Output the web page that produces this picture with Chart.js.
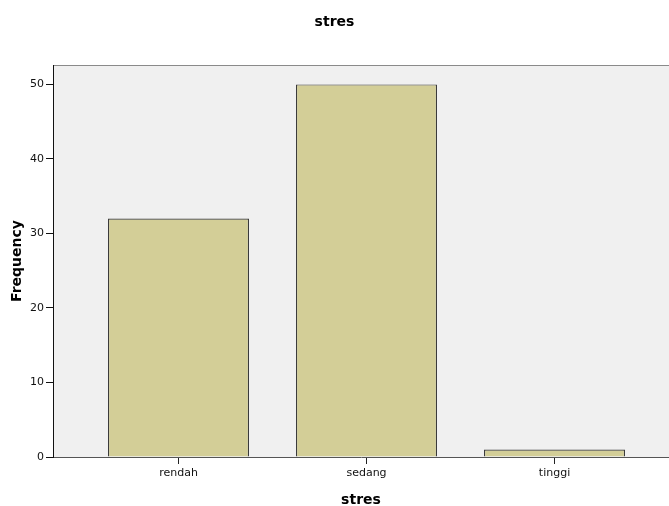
<!DOCTYPE html>
<html>
<head>
<meta charset="utf-8">
<script src="https://cdn.jsdelivr.net/npm/chart.js@4.4.1/dist/chart.umd.min.js"></script>
<style>
  html, body { margin: 0; padding: 0; background: #ffffff; }
  #wrap { width: 669px; height: 506px; position: relative; }
</style>
</head>
<body>
<div id="wrap"><canvas id="c" width="669" height="506"></canvas></div>
<script>
const chartTitle = 'stres';
const categories = ['rendah', 'sedang', 'tinggi'];
const frequencies = [32, 50, 1];
const yTickValues = [0, 10, 20, 30, 40, 50];
const xAxisTitle = 'stres';
const yAxisTitle = 'Frequency';

const points = categories.map((c, i) => ({ x: i, y: frequencies[i] }));

const plotBg = {
  id: 'plotBg',
  beforeDraw(chart) {
    const { ctx, chartArea: a } = chart;
    ctx.save();
    ctx.fillStyle = '#F0F0F0';
    ctx.fillRect(a.left, a.top, a.right - a.left, a.bottom - a.top);
    ctx.strokeStyle = '#8a8a8a';
    ctx.lineWidth = 1;
    ctx.beginPath();
    ctx.moveTo(a.left, a.top + 0.5);
    ctx.lineTo(a.right, a.top + 0.5);
    ctx.stroke();
    ctx.restore();
  }
};

new Chart(document.getElementById('c'), {
  type: 'bar',
  data: {
    datasets: [{
      data: points,
      backgroundColor: '#D3CE97',
      borderColor: '#3a3a3a',
      borderWidth: 1.2,
      barPercentage: 0.75,
      categoryPercentage: 1
    }]
  },
  options: {
    responsive: false,
    animation: false,
    devicePixelRatio: 1,
    layout: { padding: { left: 0, right: 0, top: 0, bottom: 0 } },
    plugins: {
      legend: { display: false },
      tooltip: { enabled: false },
      title: {
        display: true,
        text: chartTitle,
        color: '#000',
        font: { family: 'DejaVu Sans', size: 14, weight: 'bold', lineHeight: 1.2 },
        padding: { top: 13.6, bottom: 34.6 }
      }
    },
    scales: {
      x: {
        type: 'linear',
        min: -0.6676,
        max: 2.609,
        offset: false,
        afterFit(s) { s.height = 49; },
        afterBuildTicks(s) { s.ticks = categories.map((c, i) => ({ value: i })); },
        ticks: {
          autoSkip: false,
          maxRotation: 0,
          padding: 3,
          color: '#111',
          font: { family: 'DejaVu Sans', size: 11 },
          callback: (v) => categories[v]
        },
        grid: { offset: false, drawOnChartArea: false, drawTicks: true, tickLength: 7, color: '#222' },
        border: { display: true, color: '#555', width: 1 },
        title: {
          display: true,
          text: xAxisTitle,
          color: '#000',
          font: { family: 'DejaVu Sans', size: 14, weight: 'bold', lineHeight: 0.8 },
          padding: { top: 0, bottom: 0.4 }
        }
      },
      y: {
        type: 'linear',
        min: 0,
        max: 52.6,
        afterFit(s) { s.width = 53; },
        afterBuildTicks(s) { s.ticks = yTickValues.map(v => ({ value: v })); },
        ticks: {
          padding: 2,
          color: '#111',
          font: { family: 'DejaVu Sans', size: 11 }
        },
        grid: { drawOnChartArea: false, drawTicks: true, tickLength: 7, color: '#111' },
        border: { display: true, color: '#111', width: 1 },
        title: {
          display: true,
          text: yAxisTitle,
          color: '#000',
          font: { family: 'DejaVu Sans', size: 14, weight: 'bold', lineHeight: 1.2 },
          padding: { top: 9, bottom: 0 }
        }
      }
    }
  },
  plugins: [plotBg]
});
</script>
</body>
</html>
